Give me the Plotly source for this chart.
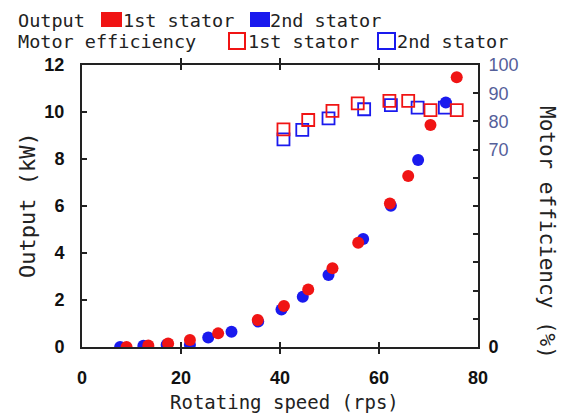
import plotly.graph_objects as go

# Output power (kW) versus rotating speed (rps)
speed_out_1st = [9.0, 13.4, 17.4, 21.8, 27.5, 35.5, 40.8, 45.7, 50.6, 55.8, 62.2, 65.9, 70.4, 75.7]
output_1st = [0.0, 0.06, 0.15, 0.30, 0.58, 1.15, 1.74, 2.45, 3.35, 4.44, 6.11, 7.28, 9.45, 11.48]
speed_out_2nd = [7.7, 12.4, 17.1, 21.8, 25.5, 30.2, 35.6, 40.3, 44.6, 49.8, 56.8, 62.4, 67.9, 73.5]
output_2nd = [0.0, 0.05, 0.10, 0.10, 0.40, 0.65, 1.08, 1.60, 2.14, 3.06, 4.60, 6.01, 7.96, 10.40]

# Motor efficiency (%) versus rotating speed (rps)
speed_eff_1st = [40.7, 45.7, 50.6, 55.7, 62.1, 65.9, 70.4, 75.7]
eff_1st = [77.2, 80.5, 83.7, 86.4, 87.3, 87.3, 84.0, 84.0]
speed_eff_2nd = [40.7, 44.5, 49.8, 57.0, 62.4, 67.8, 73.3]
eff_2nd = [73.6, 77.0, 81.1, 84.3, 85.8, 84.9, 84.9]

x_ticks = [0, 20, 40, 60, 80]
y_ticks = [0, 2, 4, 6, 8, 10, 12]
eff_ticks = [0, 10, 20, 30, 40, 50, 60, 70, 80, 90, 100]
eff_tick_labels = ["<b><span style='color:#111'>0</span></b>", "", "", "", "", "", "",
                   "70", "80", "90", "100"]

RED = "#f01414"
BLUE = "#1a1aee"
MONO = "DejaVu Sans Mono"

W, H = 561, 414
L, R, T, B = 82, 478, 65, 347


def px(x):
    return (x - L) / (R - L)


def py(y):
    return (B - y) / (B - T)


fig = go.Figure()

fig.add_trace(go.Scatter(x=speed_eff_2nd, y=eff_2nd, yaxis="y2", mode="markers",
                         marker=dict(symbol="square-open", size=12, color=BLUE,
                                     line=dict(width=1.8, color=BLUE))))
fig.add_trace(go.Scatter(x=speed_eff_1st, y=eff_1st, yaxis="y2", mode="markers",
                         marker=dict(symbol="square-open", size=12, color=RED,
                                     line=dict(width=1.8, color=RED))))
fig.add_trace(go.Scatter(x=speed_out_2nd, y=output_2nd, mode="markers",
                         marker=dict(symbol="circle", size=12, color=BLUE, line=dict(width=0))))
fig.add_trace(go.Scatter(x=speed_out_1st, y=output_1st, mode="markers",
                         marker=dict(symbol="circle", size=12, color=RED, line=dict(width=0))))

axis_line = dict(showline=True, linecolor="#222", linewidth=2, showgrid=False,
                 zeroline=False, ticks="inside", ticklen=5, tickwidth=2, tickcolor="#222")

fig.update_layout(
    width=W, height=H,
    margin=dict(l=L, r=W - R, t=T, b=H - B),
    plot_bgcolor="white", paper_bgcolor="white",
    showlegend=False,
    xaxis=dict(range=[0, 80], tickvals=x_ticks, mirror="allticks",
               tickfont=dict(family="Liberation Sans", size=18, color="#111", weight="bold"),
               ticklabelstandoff=13, **axis_line),
    yaxis=dict(range=[0, 12], tickvals=y_ticks, mirror=False,
               tickfont=dict(family="Liberation Sans", size=18, color="#111", weight="bold"),
               ticklabelstandoff=12, **axis_line),
    yaxis2=dict(range=[0, 100], overlaying="y", side="right", tickvals=eff_ticks,
                ticktext=eff_tick_labels,
                tickfont=dict(family="Liberation Sans", size=18, color="#55609a"),
                ticklabelstandoff=5, **axis_line),
)

# Axis titles
title_font = dict(family=MONO, color="#222")
fig.add_annotation(text="Rotating speed (rps)", x=px(284), y=py(402), xref="paper", yref="paper",
                   xanchor="center", yanchor="middle", showarrow=False,
                   font=dict(size=19, **title_font))
fig.add_annotation(text="Output (kW)", x=px(27), y=py(205), xref="paper", yref="paper",
                   xanchor="center", yanchor="middle", textangle=-90, showarrow=False,
                   font=dict(size=22, **title_font))
fig.add_annotation(text="Motor efficiency (%)", x=px(547), y=py(232), xref="paper", yref="paper",
                   xanchor="center", yanchor="middle", textangle=90, showarrow=False,
                   font=dict(size=21, **title_font))

# Key above the plot
key_text = [("Output", 16, 20), ("1st stator", 121, 20), ("2nd stator", 268, 20),
            ("Motor efficiency", 16, 41), ("1st stator", 246, 41), ("2nd stator", 395, 41)]
for label, x0, yc in key_text:
    fig.add_annotation(text=label, x=px(x0), y=py(yc), xref="paper", yref="paper",
                       xanchor="left", yanchor="middle", showarrow=False,
                       font=dict(family=MONO, size=18.5, color="#222"))

key_boxes = [(101, 12, 122, 27, RED, True), (250, 12, 270, 27, BLUE, True),
             (229, 33, 245, 49, RED, False), (378, 33, 395, 49, BLUE, False)]
for x0, y0, x1, y1, col, filled in key_boxes:
    fig.add_shape(type="rect", xref="paper", yref="paper",
                  x0=px(x0), x1=px(x1), y0=py(y1), y1=py(y0),
                  fillcolor=col if filled else "rgba(0,0,0,0)",
                  line=dict(color=col, width=0 if filled else 2))

fig.write_html("out.html")
